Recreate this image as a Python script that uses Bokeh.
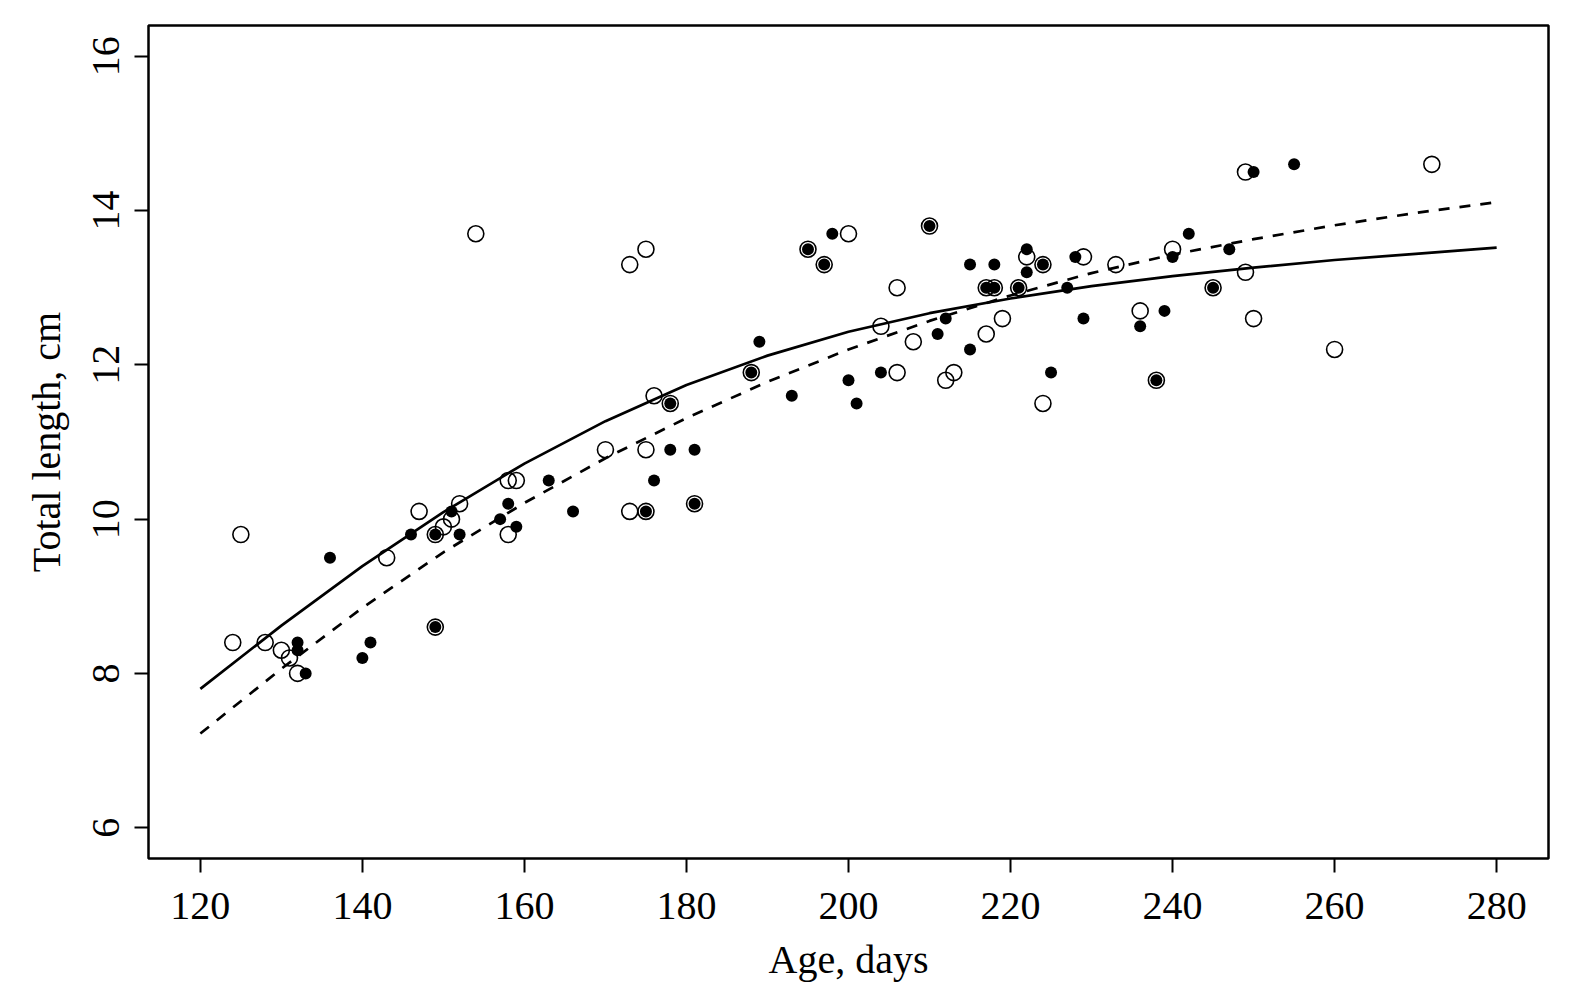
from bokeh.plotting import figure
from bokeh.models import Range1d, FixedTicker, ColumnDataSource
from bokeh.embed import file_html
from bokeh.resources import INLINE

# ---- data ----
open_age = [124, 125, 128, 130, 131, 132, 143, 147, 149, 149, 150, 151, 152, 154,
            158, 159, 158, 170, 173, 173, 175, 175, 175, 176, 178, 181, 188, 195,
            197, 200, 204, 206, 206, 208, 210, 212, 213, 217, 217, 218, 219, 221,
            222, 224, 224, 229, 233, 236, 238, 240, 245, 249, 249, 250, 260, 272]
open_len = [8.4, 9.8, 8.4, 8.3, 8.2, 8.0, 9.5, 10.1, 9.8, 8.6, 9.9, 10.0, 10.2, 13.7,
            10.5, 10.5, 9.8, 10.9, 10.1, 13.3, 13.5, 10.9, 10.1, 11.6, 11.5, 10.2, 11.9, 13.5,
            13.3, 13.7, 12.5, 13.0, 11.9, 12.3, 13.8, 11.8, 11.9, 12.4, 13.0, 13.0, 12.6, 13.0,
            13.4, 13.3, 11.5, 13.4, 13.3, 12.7, 11.8, 13.5, 13.0, 14.5, 13.2, 12.6, 12.2, 14.6]

filled_age = [132, 132, 133, 136, 140, 141, 146, 149, 149, 151, 152, 157, 158, 159,
              163, 166, 175, 176, 178, 178, 181, 181, 188, 189, 193, 195, 197, 198,
              200, 201, 204, 210, 211, 212, 215, 215, 217, 218, 218, 221, 222, 222,
              224, 225, 227, 228, 229, 236, 238, 239, 240, 242, 245, 247, 250, 255]
filled_len = [8.4, 8.3, 8.0, 9.5, 8.2, 8.4, 9.8, 9.8, 8.6, 10.1, 9.8, 10.0, 10.2, 9.9,
              10.5, 10.1, 10.1, 10.5, 11.5, 10.9, 10.9, 10.2, 11.9, 12.3, 11.6, 13.5, 13.3, 13.7,
              11.8, 11.5, 11.9, 13.8, 12.4, 12.6, 13.3, 12.2, 13.0, 13.0, 13.3, 13.0, 13.5, 13.2,
              13.3, 11.9, 13.0, 13.4, 12.6, 12.5, 11.8, 12.7, 13.4, 13.7, 13.0, 13.5, 14.5, 14.6]

curve_age = [120, 130, 140, 150, 160, 170, 180, 190, 200, 210, 220, 230, 240, 250, 260, 270, 280]
solid_len = [7.80, 8.62, 9.39, 10.09, 10.72, 11.27, 11.74, 12.12, 12.43, 12.67, 12.86,
             13.02, 13.15, 13.26, 13.36, 13.44, 13.52]
dashed_len = [7.22, 8.06, 8.85, 9.57, 10.21, 10.79, 11.31, 11.78, 12.20, 12.57, 12.90,
              13.19, 13.43, 13.63, 13.81, 13.97, 14.11]

x_ticks = [120, 140, 160, 180, 200, 220, 240, 260, 280]
y_ticks = [6, 8, 10, 12, 14, 16]

FONT = "Liberation Serif"

p = figure(width=1559, height=985, output_backend="svg", toolbar_location=None,
           x_range=Range1d(113.6, 286.4), y_range=Range1d(5.6, 16.4),
           min_border_left=148, min_border_right=11, min_border_top=25, min_border_bottom=127)

p.background_fill_color = "white"
p.border_fill_color = "white"
p.outline_line_color = "black"
p.outline_line_width = 2.5
p.grid.visible = False

for ax in (p.xaxis[0], p.yaxis[0]):
    ax.axis_line_color = None
    ax.major_tick_line_color = "black"
    ax.major_tick_line_width = 2
    ax.major_tick_out = 14
    ax.major_tick_in = 0
    ax.minor_tick_line_color = None
    ax.major_label_text_font = FONT
    ax.major_label_text_font_size = "40px"
    ax.major_label_text_color = "black"
    ax.axis_label_text_font = FONT
    ax.axis_label_text_font_size = "40px"
    ax.axis_label_text_font_style = "normal"
    ax.axis_label_text_color = "black"

p.xaxis[0].ticker = FixedTicker(ticks=x_ticks)
p.yaxis[0].ticker = FixedTicker(ticks=y_ticks)
p.xaxis[0].axis_label = "Age, days"
p.yaxis[0].axis_label = "Total length, cm"
p.xaxis[0].major_label_standoff = 20
p.xaxis[0].axis_label_standoff = 15
p.yaxis[0].major_label_orientation = "vertical"
p.yaxis[0].major_label_standoff = 15
p.yaxis[0].axis_label_standoff = 22

open_src = ColumnDataSource(dict(x=open_age, y=open_len))
filled_src = ColumnDataSource(dict(x=filled_age, y=filled_len))
curve_src = ColumnDataSource(dict(x=curve_age, s=solid_len, d=dashed_len))

p.scatter("x", "y", source=open_src, marker="circle", size=16,
          fill_alpha=0, line_color="black", line_width=1.6)
p.scatter("x", "y", source=filled_src, marker="circle", size=12,
          fill_color="black", line_color=None)

p.line("x", "s", source=curve_src, line_color="black", line_width=2.7)
p.line("x", "d", source=curve_src, line_color="black", line_width=2.7, line_dash="11 10")

open("out.html", "w").write(file_html(p, INLINE))
